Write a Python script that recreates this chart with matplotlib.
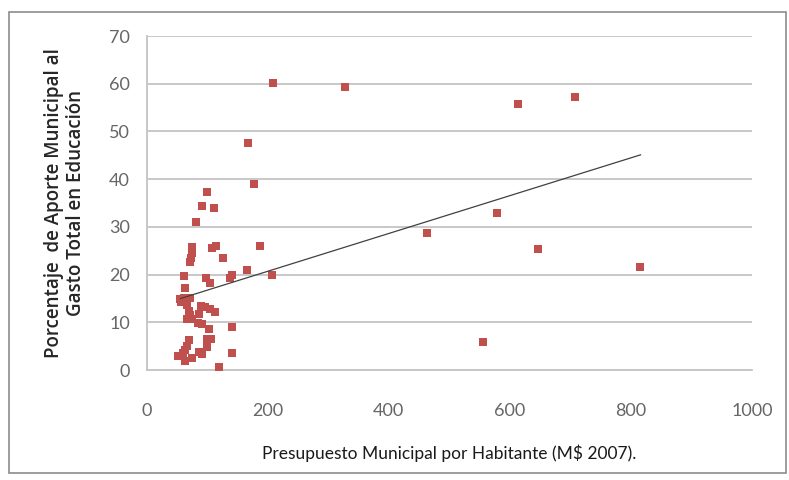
import matplotlib
matplotlib.use("Agg")
import matplotlib.pyplot as plt
import numpy as np

# presupuesto municipal por habitante (M$ 2007)
presupuesto = [209, 327, 613, 708, 168, 177, 579, 463, 647, 815, 556, 187, 166, 207,
               99, 91, 111, 82,
               75, 74, 73, 72,
               108, 115, 126,
               137, 141, 98, 105, 61, 63,
               55, 62, 71, 57, 66,
               89, 97, 104, 112,
               69, 72, 86, 66, 74, 84, 92, 103, 141,
               106, 99, 69, 66, 99, 86, 91, 52, 60, 64, 74, 63, 141, 119]
# porcentaje de aporte municipal al gasto total en educacion
aporte = [60.2, 59.3, 55.8, 57.3, 47.6, 39.0, 33.0, 28.8, 25.3, 21.5, 5.9, 25.9, 21.0, 19.9,
          37.4, 34.3, 34.0, 31.1,
          25.7, 24.5, 23.5, 22.6,
          25.6, 26.0, 23.5,
          19.2, 19.9, 19.3, 18.2, 19.8, 17.2,
          14.8, 15.2, 15.0, 14.2, 13.6,
          13.5, 13.3, 12.7, 12.1,
          12.4, 11.5, 11.7, 10.8, 10.7, 9.8, 9.6, 8.7, 9.1,
          6.6, 6.5, 6.3, 5.0, 4.8, 3.8, 3.4, 3.0, 3.5, 1.8, 2.6, 4.3, 3.6, 0.7]

# linea de tendencia (extremos)
tendencia_x = [56, 816]
tendencia_y = [15.0, 45.1]

plt.rcParams["font.family"] = ["Lato", "DejaVu Sans"]

fig = plt.figure(figsize=(7.89, 4.8), dpi=100)
# marco gris alrededor del grafico
fig.patches.append(plt.Rectangle((0.011, 0.015), 0.985, 0.96, transform=fig.transFigure,
                                 fill=False, edgecolor="#8c8c8c", linewidth=1.2))
ax = fig.add_axes([0.186, 0.229, 0.767, 0.696])

ax.scatter(presupuesto, aporte, marker="s", s=28, color="#C0504D", zorder=3, linewidths=0)
ax.plot(tendencia_x, tendencia_y, color="#404040", linewidth=0.9, zorder=4)

ax.set_xlim(0, 1000)
ax.set_ylim(0, 70)
ax.set_xticks(range(0, 1001, 200))
ax.set_yticks(range(0, 71, 10))
ax.yaxis.grid(True, color="#c4c4c4", linewidth=1.3)
ax.set_axisbelow(True)
for s in ["top", "right"]:
    ax.spines[s].set_visible(False)
ax.spines["left"].set_color("#c4c4c4")
ax.spines["bottom"].set_color("#c4c4c4")
ax.spines["left"].set_linewidth(1.3)
ax.spines["bottom"].set_linewidth(1.3)
ax.tick_params(length=0, labelsize=13, colors="#666666", pad=12)
ax.tick_params(axis="x", pad=24)

ax.set_xlabel("Presupuesto Municipal por Habitante (M$ 2007).", fontsize=12.5,
              color="#1a1a1a", labelpad=18)
ax.set_ylabel("Porcentaje  de Aporte Municipal al\nGasto Total en Educación", fontsize=13.5,
              family=["Open Sans", "DejaVu Sans"], fontweight="semibold",
              color="#262626", labelpad=17, linespacing=1.1)

fig.savefig("out.png", dpi=100)
